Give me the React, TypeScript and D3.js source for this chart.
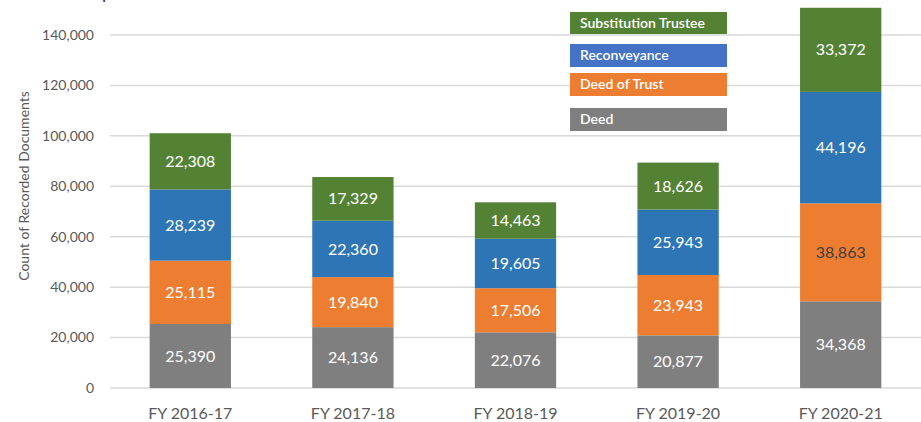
import React from "react";
import * as d3 from "d3";

const categories = ["FY 2016-17", "FY 2017-18", "FY 2018-19", "FY 2019-20", "FY 2020-21"];
const seriesNames = ["Deed", "Deed of Trust", "Reconveyance", "Substitution Trustee"];
const deed = [25390, 24136, 22076, 20877, 34368];
const deedOfTrust = [25115, 19840, 17506, 23943, 38863];
const reconveyance = [28239, 22360, 19605, 25943, 44196];
const substitutionTrustee = [22308, 17329, 14463, 18626, 33372];
const yTicks = [0, 20000, 40000, 60000, 80000, 100000, 120000, 140000];

const barColors = ["#7F7F7F", "#ED7D31", "#2E75B6", "#548235"];
const legendColors = ["#7F7F7F", "#ED7D31", "#4472C4", "#548235"];

const W = 921;
const H = 422;
const FONT = "Lato, 'Open Sans', sans-serif";

export default function App() {
  const values = [deed, deedOfTrust, reconveyance, substitutionTrustee];
  const rows = categories.map((c, i) => {
    const r: any = { cat: c };
    seriesNames.forEach((s, k) => (r[s] = values[k][i]));
    return r;
  });
  const stacked = d3.stack<any>().keys(seriesNames)(rows);

  const x = d3.scaleBand().domain(categories).range([109, 922]).paddingInner(0.5).paddingOuter(0.25);
  const y = d3.scaleLinear().domain([0, 140000]).range([388, 35]);
  const fmt = d3.format(",");

  const legendY = [108, 73, 44, 12];
  const legendH = [23, 23, 23, 22];

  return (
    <svg width={W} height={H} style={{ position: "absolute", left: 0, top: 0, background: "#fff" }} fontFamily={FONT}>
      <rect x={0} y={0} width={W} height={H} fill="#fff" />
      <text x={102} y={-1} fontSize={18} fill="#1F3864">p</text>
      {yTicks.map((t) => (
        <g key={t}>
          <line x1={110} x2={921} y1={y(t)} y2={y(t)} stroke="#D9D9D9" strokeWidth={1.5} />
          <text x={94} y={y(t)} dy="0.35em" textAnchor="end" fontSize={14} fill="#595959">
            {fmt(t)}
          </text>
        </g>
      ))}
      <text
        transform={`translate(29,186) rotate(-90)`}
        textAnchor="middle"
        fontSize={14}
        fill="#595959"
      >
        Count of Recorded Documents
      </text>
      {stacked.map((layer, k) => (
        <g key={layer.key}>
          {layer.map((d, i) => {
            const x0 = x(categories[i])!;
            const top = y(d[1]);
            const bot = y(d[0]);
            const dark = k === 1 && i === 4;
            return (
              <g key={i}>
                <rect x={x0} y={top} width={x.bandwidth()} height={bot - top} fill={barColors[k]} />
                <text
                  x={x0 + x.bandwidth() / 2}
                  y={(top + bot) / 2}
                  dy="0.35em"
                  textAnchor="middle"
                  fontSize={16}
                  fill={dark ? "#404040" : "#FFFFFF"}
                >
                  {fmt(values[k][i])}
                </text>
              </g>
            );
          })}
        </g>
      ))}
      {categories.map((c) => (
        <text key={c} x={x(c)! + x.bandwidth() / 2} y={419} textAnchor="middle" fontSize={16} fill="#595959">
          {c}
        </text>
      ))}
      {seriesNames.map((s, k) => (
        <g key={s}>
          <rect x={570} y={legendY[k]} width={157} height={legendH[k]} fill={legendColors[k]} />
          <text x={580} y={legendY[k] + legendH[k] / 2} dy="0.35em" fontSize={14} fontWeight={600} fill="#FFFFFF">
            {s}
          </text>
        </g>
      ))}
    </svg>
  );
}
